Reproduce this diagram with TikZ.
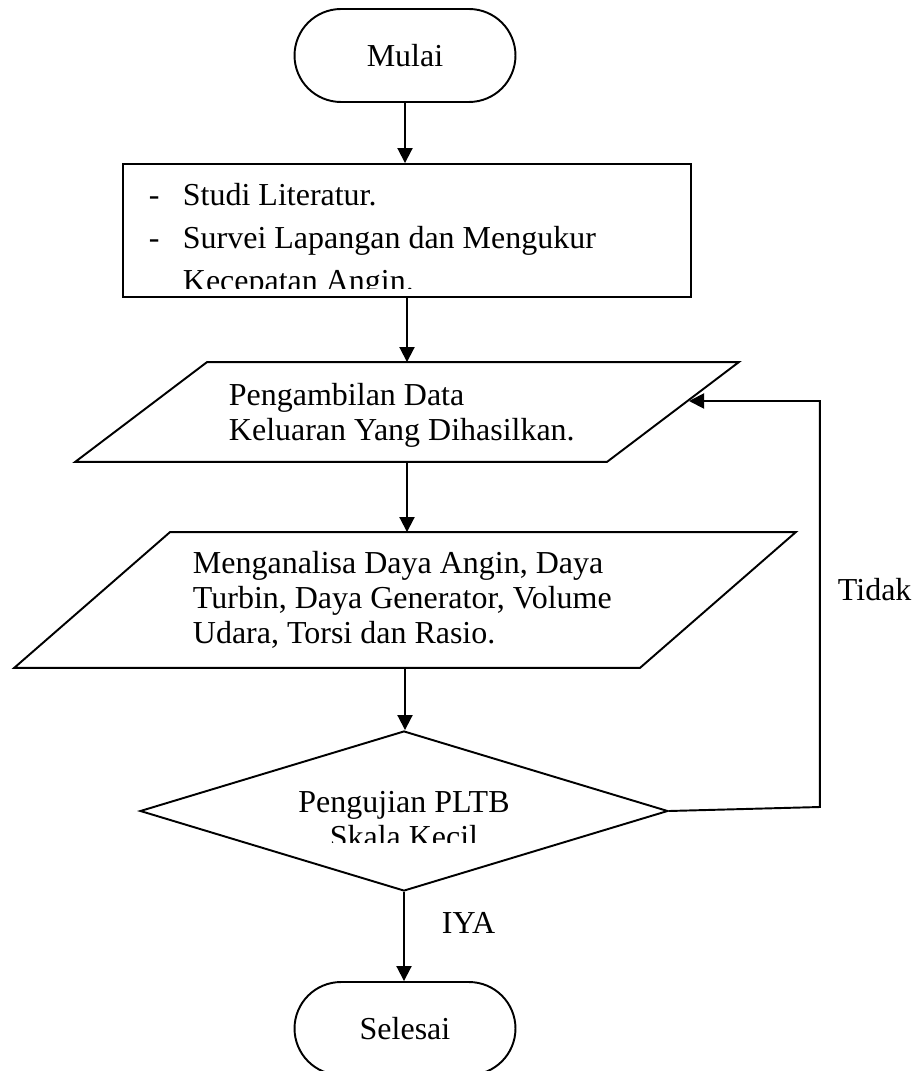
\documentclass[tikz,border=0pt]{standalone}
\usepackage{fontspec}
\setmainfont{Liberation Serif}
\usetikzlibrary{arrows.meta,shapes.geometric}
\begin{document}
\begin{tikzpicture}[x=0.02cm,y=-0.02cm,line width=1.1pt,
  font=\fontsize{18.2pt}{19.9pt}\selectfont,
  term/.style={draw,minimum width=4.42cm,minimum height=1.86cm,rounded corners=0.93cm},
  txt/.style={inner sep=0pt,align=left},
  arr/.style={-{Triangle[length=0.3cm,width=0.3cm]}}]
\useasboundingbox (0,0) rectangle (919,1071);
% shapes
\node[term] (mulai) at (405,55.5) {Mulai};
\node[draw,minimum width=11.38cm,minimum height=2.66cm] (studi) at (407,230.5) {};
\node[minimum width=10.6cm,minimum height=1.96cm] (ambil) at (407,412) {};
\draw ([xshift=1.32cm]ambil.north west) -- ([xshift=1.32cm]ambil.north east)
  -- ([xshift=-1.32cm]ambil.south east) -- ([xshift=-1.32cm]ambil.south west) -- cycle;
\node[minimum width=12.48cm,minimum height=2.68cm] (analisa) at (405,600) {};
\draw ([xshift=1.56cm]analisa.north west) -- ([xshift=1.56cm]analisa.north east)
  -- ([xshift=-1.56cm]analisa.south east) -- ([xshift=-1.56cm]analisa.south west) -- cycle;
\node[draw,diamond,minimum width=10.56cm,minimum height=3.2cm,inner sep=0pt] (uji) at (404,811) {};
\node[term] (selesai) at (405,1028.5) {Selesai};
% texts (base anchor sits on the last line)
\begin{scope}
\clip (studi.north west) rectangle ([yshift=0.18cm]studi.south east);
\node[txt,anchor=base west,font=\fontsize{18.2pt}{24.4pt}\selectfont] (studitxt) at (148,291)
  {\makebox[0.68cm][l]{-}Studi Literatur.\\
   \makebox[0.68cm][l]{-}Survei Lapangan dan Mengukur\\
   \hspace{0.68cm}Kecepatan Angin.};
\end{scope}
\node[txt,anchor=base west] (ambiltxt) at (228,440) {Pengambilan Data\\Keluaran Yang Dihasilkan.};
\node[txt,anchor=base west] (analisatxt) at (192,643)
  {Menganalisa Daya Angin, Daya\\Turbin, Daya Generator, Volume\\Udara, Torsi dan Rasio.};
\begin{scope}
\clip (uji.west |- uji.north) rectangle ([yshift=-0.62cm]uji.east);
\node[txt,align=center,anchor=base] (ujitxt) at (404,847) {Pengujian PLTB\\Skala Kecil};
\end{scope}
\node[txt,anchor=base west] (tidak) at (837,600) {Tidak};
\node[txt,anchor=base west] (iya) at (441,933) {IYA};
% connectors
\coordinate (masuk) at (689,401);
\draw[arr] (mulai.south) -- (mulai.south |- studi.north);
\draw[arr] (studi.south) -- (studi.south |- ambil.north);
\draw[arr] (ambil.south) -- (ambil.south |- analisa.north);
\draw[arr] (analisa.south) -- (analisa.south |- uji.north);
\draw[arr] (uji.south) -- (uji.south |- selesai.north);
\draw[arr] (uji.east) -- ++(151,-4) |- (masuk);
\end{tikzpicture}
\end{document}
